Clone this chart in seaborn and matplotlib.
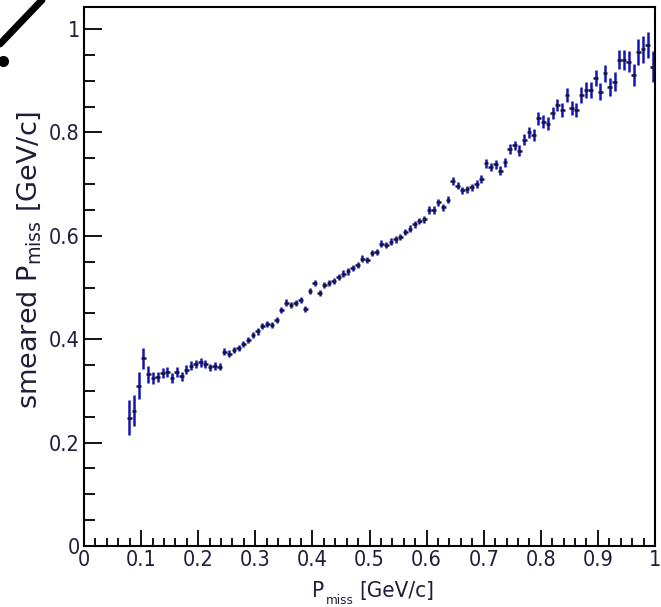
import numpy as np
import pandas as pd
import seaborn as sns
import matplotlib.pyplot as plt
from matplotlib.ticker import MultipleLocator, FixedLocator, FixedFormatter
from matplotlib.lines import Line2D
from matplotlib import font_manager

# Profile of smeared missing momentum vs. true missing momentum
n_bins = 120          # histogram bins on [0, 1] GeV/c
first_bin = 9         # first filled bin

smeared_mean = [
    0.248, 0.262, 0.310, 0.363, 0.332, 0.325, 0.327, 0.334, 0.336, 0.325,
    0.337, 0.328, 0.341, 0.349, 0.352, 0.355, 0.352, 0.346, 0.348, 0.347,
    0.376, 0.372, 0.379, 0.383, 0.390, 0.399, 0.408, 0.415, 0.426, 0.430,
    0.427, 0.437, 0.456, 0.471, 0.466, 0.470, 0.476, 0.459, 0.493, 0.508,
    0.489, 0.505, 0.508, 0.512, 0.521, 0.527, 0.531, 0.537, 0.544, 0.556,
    0.553, 0.566, 0.569, 0.585, 0.582, 0.589, 0.593, 0.598, 0.608, 0.614,
    0.622, 0.628, 0.632, 0.650, 0.650, 0.665, 0.655, 0.670, 0.706, 0.697,
    0.688, 0.690, 0.694, 0.700, 0.710, 0.740, 0.733, 0.738, 0.726, 0.742,
    0.768, 0.775, 0.765, 0.786, 0.800, 0.795, 0.827, 0.821, 0.817, 0.837,
    0.853, 0.843, 0.872, 0.847, 0.843, 0.872, 0.882, 0.882, 0.905, 0.879,
    0.914, 0.888, 0.898, 0.941, 0.940, 0.937, 0.911, 0.956, 0.961, 0.969,
    0.927,
]
smeared_err = [
    0.034, 0.030, 0.026, 0.020, 0.016, 0.012, 0.010, 0.010, 0.010, 0.010,
    0.010, 0.009, 0.009, 0.008, 0.008, 0.008, 0.008, 0.007, 0.007, 0.007,
    0.007, 0.007, 0.006, 0.006, 0.006, 0.006, 0.006, 0.006, 0.006, 0.006,
    0.006, 0.006, 0.006, 0.006, 0.006, 0.006, 0.006, 0.006, 0.006, 0.006,
    0.006, 0.006, 0.006, 0.006, 0.006, 0.006, 0.006, 0.006, 0.006, 0.006,
    0.006, 0.006, 0.006, 0.006, 0.006, 0.006, 0.006, 0.006, 0.006, 0.006,
    0.006, 0.006, 0.007, 0.007, 0.007, 0.007, 0.007, 0.007, 0.007, 0.007,
    0.007, 0.007, 0.007, 0.007, 0.008, 0.008, 0.008, 0.008, 0.009, 0.009,
    0.009, 0.009, 0.010, 0.010, 0.010, 0.011, 0.012, 0.012, 0.012, 0.012,
    0.012, 0.013, 0.013, 0.014, 0.014, 0.015, 0.015, 0.016, 0.016, 0.017,
    0.017, 0.018, 0.018, 0.019, 0.019, 0.020, 0.022, 0.025, 0.026, 0.026,
    0.030,
]

x_ticks = [0, 0.1, 0.2, 0.3, 0.4, 0.5, 0.6, 0.7, 0.8, 0.9, 1.0]
x_tick_labels = ["0", "0.1", "0.2", "0.3", "0.4", "0.5", "0.6", "0.7", "0.8", "0.9", "1"]
y_ticks = [0, 0.2, 0.4, 0.6, 0.8, 1.0]
y_tick_labels = ["0", "0.2", "0.4", "0.6", "0.8", "1"]

bin_width = 1.0 / n_bins
p_miss = (np.arange(first_bin, n_bins) + 0.5) * bin_width
df = pd.DataFrame({"p_miss": p_miss, "smeared": smeared_mean, "err": smeared_err})

sns.set_theme(style="white")
plt.rcParams["font.family"] = ["DejaVu Sans"]

cond = font_manager.FontProperties(family="DejaVu Sans", stretch="condensed", size=15.5)

W, H = 661, 607
fig = plt.figure(figsize=(W / 100, H / 100), dpi=100)
fig.patch.set_facecolor("white")
ax = fig.add_axes([84 / W, 1 - 546 / H, (655 - 84) / W, (546 - 7) / H])
ax.set_facecolor("white")

text_color = "#1e1e38"
blue = "#1414b4"
navy = "#14143c"

# vertical (y) error bars
ax.errorbar(df["p_miss"], df["smeared"], yerr=df["err"], fmt="none",
            ecolor=blue, elinewidth=1.8, capsize=0, zorder=2)
# horizontal bin-width bars
ax.errorbar(df["p_miss"], df["smeared"], xerr=bin_width / 2, fmt="none",
            ecolor=navy, elinewidth=1.8, capsize=0, zorder=3)
sns.scatterplot(data=df, x="p_miss", y="smeared", marker=".", s=6,
                color=navy, edgecolor=None, linewidth=0, legend=False, ax=ax, zorder=4)

ax.set_xlim(0, 1)
ax.set_ylim(0, 1.0426)

ax.xaxis.set_major_locator(FixedLocator(x_ticks))
ax.xaxis.set_major_formatter(FixedFormatter(x_tick_labels))
ax.xaxis.set_minor_locator(MultipleLocator(0.02))
ax.yaxis.set_major_locator(FixedLocator(y_ticks))
ax.yaxis.set_major_formatter(FixedFormatter(y_tick_labels))
ax.yaxis.set_minor_locator(MultipleLocator(0.05))

ax.tick_params(axis="x", which="major", direction="in", length=11.5, width=1.3,
               color="black", labelcolor=text_color, pad=3, top=False, bottom=True)
ax.tick_params(axis="x", which="minor", direction="in", length=5.8, width=1.3,
               color="black", top=False, bottom=True)
ax.tick_params(axis="y", which="major", direction="in", length=13, width=1.3,
               color="black", labelcolor=text_color, pad=3, left=True, right=False)
ax.tick_params(axis="y", which="minor", direction="in", length=8, width=1.3,
               color="black", left=True, right=False)
for lab in ax.get_xticklabels() + ax.get_yticklabels():
    lab.set_fontproperties(cond)

for side in ["left", "bottom", "top", "right"]:
    ax.spines[side].set_visible(True)
    ax.spines[side].set_color("black")
    ax.spines[side].set_linewidth(1.5)

ax.set_xlabel("")
ax.set_ylabel("")

# x-axis title, built from pieces so the subscript can use the condensed face
xl = font_manager.FontProperties(family="DejaVu Sans", stretch="condensed", size=16)
xs = font_manager.FontProperties(family="DejaVu Sans", stretch="condensed", size=9.5)
fig.text(312 / W, 1 - 597 / H, "P", ha="left", va="baseline", fontproperties=xl, color=text_color)
fig.text(326 / W, 1 - 604 / H, "miss", ha="left", va="baseline", fontproperties=xs, color=text_color)
fig.text(359 / W, 1 - 597 / H, "[GeV/c]", ha="left", va="baseline", fontproperties=xl, color=text_color)

fig.text(29 / W, 1 - 260 / H, r"smeared P$_{\mathrm{miss}}$ [GeV/c]", rotation=90,
         ha="center", va="center", fontsize=19.5, color=text_color,
         family="DejaVu Sans", math_fontfamily="dejavusans")

# corner stroke
fig.add_artist(Line2D([42 / W, 0 / W], [1 - 0 / H, 1 - 44 / H], transform=fig.transFigure,
                      color="black", linewidth=5, solid_capstyle="round"))
fig.add_artist(Line2D([3 / W], [1 - 61 / H], transform=fig.transFigure,
                      color="black", marker="o", markersize=7, linestyle="none"))

fig.savefig("out.png", dpi=100, facecolor="white")
